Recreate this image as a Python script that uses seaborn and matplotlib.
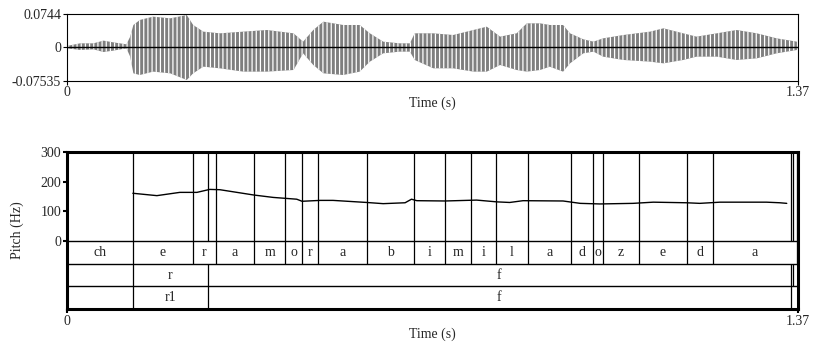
import numpy as np
import pandas as pd
import matplotlib
matplotlib.use("Agg")
import matplotlib.pyplot as plt
import seaborn as sns

# Waveform envelope (s, upper / lower amplitude)
wave_t = [0.0, 0.025, 0.05, 0.069, 0.087, 0.112, 0.119, 0.125, 0.137, 0.162,
          0.194, 0.225, 0.237, 0.256, 0.287, 0.331, 0.375, 0.425, 0.443, 0.462,
          0.481, 0.518, 0.549, 0.568, 0.593, 0.624, 0.643, 0.652, 0.687, 0.724,
          0.762, 0.787, 0.812, 0.843, 0.862, 0.887, 0.905, 0.930, 0.943, 0.968,
          0.987, 1.005, 1.043, 1.093, 1.118, 1.155, 1.180, 1.218, 1.255, 1.293,
          1.330, 1.368]
wave_up = [0.0029, 0.0089, 0.0089, 0.0150, 0.0112, 0.0067, 0.0240, 0.0503, 0.0616, 0.0691,
           0.0653, 0.0728, 0.0503, 0.0353, 0.0315, 0.0353, 0.0390, 0.0315, 0.0127, 0.0390,
           0.0578, 0.0503, 0.0503, 0.0315, 0.0127, 0.0089, 0.0089, 0.0315, 0.0315, 0.0277,
           0.0390, 0.0465, 0.0240, 0.0315, 0.0540, 0.0540, 0.0503, 0.0503, 0.0315, 0.0180,
           0.0127, 0.0202, 0.0277, 0.0353, 0.0428, 0.0315, 0.0240, 0.0315, 0.0390, 0.0315,
           0.0202, 0.0127]
wave_low = [-0.0020, -0.0061, -0.0046, -0.0106, -0.0076, -0.0023, -0.0211, -0.0587, -0.0625, -0.0549,
            -0.0587, -0.0737, -0.0587, -0.0437, -0.0474, -0.0549, -0.0549, -0.0512, -0.0136, -0.0399,
            -0.0587, -0.0625, -0.0549, -0.0324, -0.0136, -0.0098, -0.0098, -0.0286, -0.0474, -0.0474,
            -0.0549, -0.0549, -0.0399, -0.0512, -0.0549, -0.0512, -0.0437, -0.0549, -0.0362, -0.0136,
            -0.0098, -0.0211, -0.0286, -0.0324, -0.0362, -0.0286, -0.0211, -0.0211, -0.0286, -0.0249,
            -0.0136, -0.0061]

# Pitch contour
pitch_t = [0.124, 0.169, 0.212, 0.244, 0.268, 0.287, 0.351, 0.387, 0.431, 0.441,
           0.475, 0.499, 0.562, 0.593, 0.634, 0.646, 0.656, 0.709, 0.768, 0.806,
           0.830, 0.855, 0.930, 0.962, 0.999, 1.061, 1.099, 1.161, 1.186, 1.224,
           1.311, 1.336, 1.349]
pitch_hz = [161, 153, 164, 164, 174, 173, 155, 147, 141, 134,
            137, 137, 130, 126, 129, 141, 136, 135, 138, 132,
            130, 136, 135, 127, 125, 127, 131, 129, 127, 131,
            131, 129, 127]

# TextGrid tiers: boundaries (s) and interval labels
tier1_bounds = [0.1236, 0.2360, 0.2791, 0.3514, 0.4090, 0.4414, 0.4702, 0.5620, 0.6512, 0.7087,
                0.7580, 0.8042, 0.8636, 0.9447, 0.9854, 1.0041, 1.0727, 1.1615, 1.2102, 1.3676]
tier1_labels = ["ch", "e", "r", "a", "m", "o", "r", "a", "b", "i",
                "m", "i", "l", "a", "d", "o", "z", "e", "d", "a", ""]
tier2_bounds = [0.1236, 0.2641, 1.3563, 1.3612]
tier2_labels = ["", "r", "f", "", ""]
tier3_bounds = [0.1236, 0.2641, 1.3563]
tier3_labels = ["", "r1", "f", ""]

t_end = 1.37
wave_ticks = [-0.07535, 0, 0.0744]
pitch_ticks = [0, 100, 200, 300]

sns.set_theme(style="ticks")
plt.rcParams["font.family"] = ["Liberation Serif", "DejaVu Serif"]
plt.rcParams["hatch.linewidth"] = 0.9
FS = 10

fig = plt.figure(figsize=(8.13, 3.44), dpi=100)

# ---- waveform ----
ax1 = fig.add_axes([0.082, 0.7654, 0.8995, 0.193])
ax1.fill_between(wave_t, wave_low, wave_up, facecolor="#7f7f7f", edgecolor="white",
                 hatch="||||", linewidth=0)
ax1.axhline(0, color="black", lw=1.0)
ax1.set_xlim(0, t_end)
ax1.set_ylim(wave_ticks[0], wave_ticks[-1])
ax1.set_yticks(wave_ticks)
ax1.set_yticklabels(["-0.07535", "0", "0.0744"], fontsize=FS)
ax1.set_xticks([0, t_end])
ax1.set_xticklabels(["0", "1.37"], fontsize=FS)
ax1.set_xlabel("Time (s)", fontsize=FS, labelpad=-2)
ax1.tick_params(direction="out", length=3, width=0.8, pad=1, color="black")
for s in ax1.spines.values():
    s.set_linewidth(0.8)
    s.set_color("black")

# ---- pitch + tiers ----
ax2 = fig.add_axes([0.082, 0.1017, 0.8995, 0.4564])
tier_h = 229 / 3
ax2.set_xlim(0, t_end)
ax2.set_ylim(-3 * tier_h, 300)

df = pd.DataFrame({"t": pitch_t, "hz": pitch_hz})
sns.lineplot(data=df, x="t", y="hz", ax=ax2, color="black", lw=1.0)

tiers = [(tier1_bounds, tier1_labels), (tier2_bounds, tier2_labels), (tier3_bounds, tier3_labels)]
all_bounds = sorted(set(tier1_bounds + tier2_bounds + tier3_bounds))
ax2.vlines(all_bounds, 0, 300, color="black", lw=0.9)
for i, (bounds, labels) in enumerate(tiers):
    top, bot = -tier_h * i, -tier_h * (i + 1)
    ax2.vlines(bounds, bot, top, color="black", lw=0.9)
    ax2.axhline(top, color="black", lw=1.0)
    edges = [0] + bounds + [t_end]
    for lab, a, b in zip(labels, edges[:-1], edges[1:]):
        if lab:
            ax2.text((a + b) / 2, (top + bot) / 2, lab, ha="center", va="center", fontsize=FS)

ax2.set_yticks(pitch_ticks)
ax2.set_yticklabels([str(v) for v in pitch_ticks], fontsize=FS)
ax2.set_xticks([0, t_end])
ax2.set_xticklabels(["0", "1.37"], fontsize=FS)
ax2.set_xlabel("Time (s)", fontsize=FS, labelpad=0)
ax2.set_ylabel("Pitch (Hz)", fontsize=FS)
ax2.yaxis.set_label_coords(-0.058, 0.5)
ax2.tick_params(direction="out", length=3, width=1.5, pad=1, color="black")
for s in ax2.spines.values():
    s.set_linewidth(2.2)
    s.set_color("black")

fig.savefig("out.png", dpi=100)
